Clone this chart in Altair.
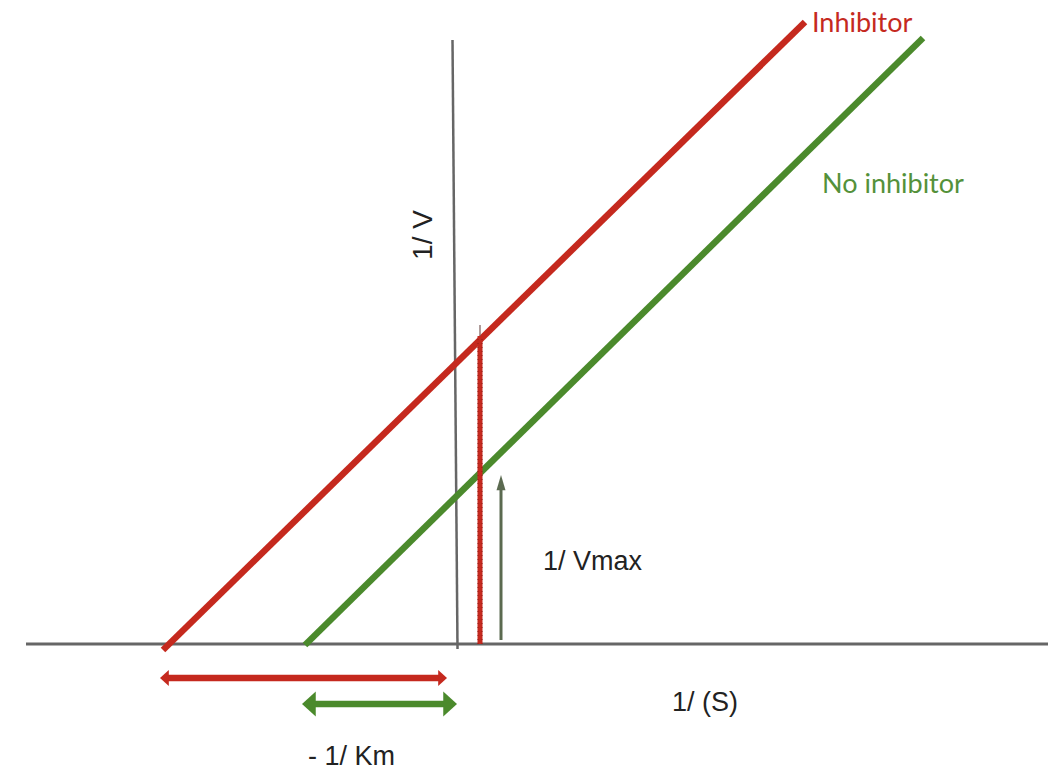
import altair as alt
import pandas as pd

# Lineweaver-Burk double-reciprocal plot: 1/V against 1/(S),
# with and without an inhibitor. Coordinates are in axis units,
# with the origin where the two axes cross.

# reciprocal lines (end points)
inhib_x = [-2.94, 3.48]
inhib_y = [-0.06, 6.22]
free_x = [-1.52, 4.66]
free_y = [-0.01, 6.06]

# axes
xaxis_x = [-4.31, 5.91]
xaxis_y = [0.0, 0.0]
yaxis_x = [-0.045, 0.005]
yaxis_y = [6.04, -0.05]

# dotted guide from the x axis up past the inhibited line
guide_x = [0.23, 0.23]
guide_y = [0.0, 3.19]
guide_red_y = [0.0, 3.08]

# 1/Vmax arrow
vmax_x = [0.44, 0.44]
vmax_y = [0.04, 1.69]

# -1/Km spans
km_inhib_x = [-2.97, -0.10]
km_inhib_y = [-0.34, -0.34]
km_free_x = [-1.55, 0.0]
km_free_y = [-0.60, -0.60]

# labels
label_text = ["Inhibitor", "No inhibitor", "1/ V", "1/ Vmax", "1/ (S)", "- 1/ Km"]
label_x = [3.55, 3.65, -0.33, 0.86, 2.15, -1.49]
label_y = [6.12, 4.51, 4.09, 0.74, -0.67, -1.21]

RED = "#c5291e"
GREEN = "#4b8a2c"
GREEN_TEXT = "#54913a"
GRAY = "#666666"
OLIVE = "#5b6a50"

X = alt.X("x:Q", scale=alt.Scale(domain=[-4.57, 6.02], nice=False, zero=False), axis=None)
Y = alt.Y("y:Q", scale=alt.Scale(domain=[-1.26, 6.44], nice=False, zero=False), axis=None)


def seg(xs, ys, color, width, dash=None):
    df = pd.DataFrame({"x": xs, "y": ys, "o": list(range(len(xs)))})
    kw = dict(color=color, strokeWidth=width, strokeCap="butt")
    if dash:
        kw["strokeDash"] = dash
    return alt.Chart(df).mark_line(**kw).encode(x=X, y=Y, order="o:O")


def head(x, y, angle, color, path, size):
    df = pd.DataFrame({"x": [x], "y": [y]})
    return alt.Chart(df).mark_point(
        shape=path, size=size, angle=angle, filled=True, color=color,
        opacity=1, strokeWidth=0,
    ).encode(x=X, y=Y)


WIDE = "M0,0 L-1.1,-1 L-1.1,1 Z"
SLIM = "M0,0 L-3.4,-1 L-3.4,1 Z"

layers = [
    seg(xaxis_x, xaxis_y, GRAY, 3),
    seg(yaxis_x, yaxis_y, GRAY, 2.5),
    seg(inhib_x, inhib_y, RED, 6.5),
    seg(free_x, free_y, GREEN, 6.5),
    seg(guide_x, guide_y, "#7a5a58", 1.2),
    seg(guide_x, guide_red_y, RED, 5),
    seg(guide_x, guide_red_y, "#8e1f17", 5, dash=[1, 3]),
    seg(guide_x, guide_red_y, RED, 3),
    # 1/Vmax arrow
    seg(vmax_x, [vmax_y[0], vmax_y[1] - 0.12], OLIVE, 3),
    head(vmax_x[1], vmax_y[1], 270, OLIVE, SLIM, 81),
    # -1/Km span, inhibited
    seg([km_inhib_x[0] + 0.07, km_inhib_x[1] - 0.07], km_inhib_y, RED, 6.5),
    head(km_inhib_x[0], km_inhib_y[0], 180, RED, WIDE, 256),
    head(km_inhib_x[1], km_inhib_y[1], 0, RED, WIDE, 256),
    # -1/Km span, no inhibitor
    seg([km_free_x[0] + 0.12, km_free_x[1] - 0.12], km_free_y, GREEN, 6.5),
    head(km_free_x[0], km_free_y[0], 180, GREEN, WIDE, 625),
    head(km_free_x[1], km_free_y[1], 0, GREEN, WIDE, 625),
]

labels = pd.DataFrame({"t": label_text, "x": label_x, "y": label_y})


def text(i, color, font, size, angle=0, align="left", baseline="alphabetic"):
    kw = dict(color=color, font=font, fontSize=size, align=align, baseline=baseline)
    if angle:
        kw["angle"] = angle
    return alt.Chart(labels.iloc[[i]]).mark_text(**kw).encode(x=X, y=Y, text="t:N")


layers += [
    text(0, RED, "Lato", 27),
    text(1, GREEN_TEXT, "Lato", 27),
    text(2, "#222222", "Liberation Sans", 28, angle=270, align="center", baseline="middle"),
    text(3, "#222222", "Liberation Sans", 27),
    text(4, "#222222", "Liberation Sans", 27),
    text(5, "#222222", "Liberation Sans", 27),
]

chart = alt.layer(*layers).properties(
    width=1059, height=770, autosize=alt.AutoSizeParams(type="none"), padding=0,
    background="white",
).configure_view(stroke=None)

chart.save("out.html", embed_options={"renderer": "svg", "actions": False})
